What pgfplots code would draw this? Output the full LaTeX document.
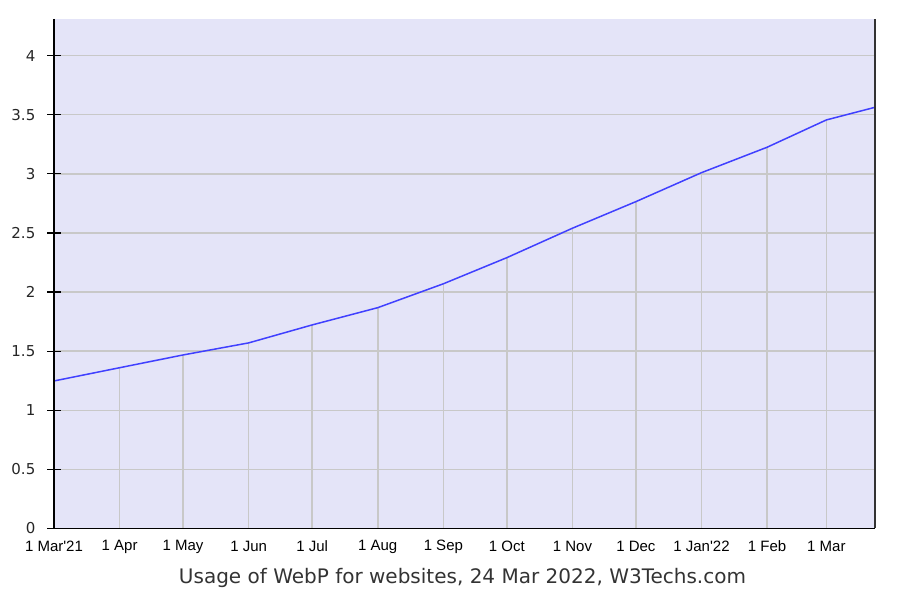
\documentclass[border=0pt]{standalone}
\usepackage{pgfplots}
\pgfplotsset{compat=1.18}
\usepackage{fontspec}
\setmainfont{DejaVu Sans}
\newfontfamily\arial{Liberation Sans}

\definecolor{bgcol}{RGB}{228,228,248}
\definecolor{gridcol}{RGB}{200,200,200}
\definecolor{linecol}{RGB}{64,64,255}

% WebP usage, days since 1 Mar 2021 -> percent
\pgfplotstableread{
day  val
0    1.248
31   1.36
61   1.468
92   1.57
122  1.722
153  1.868
184  2.07
214  2.291
245  2.54
275  2.765
306  3.01
337  3.225
365  3.456
388  3.563
}\webp

\begin{document}
\begin{tikzpicture}[x=1bp,y=1bp]
\useasboundingbox (0,0) rectangle (898,598);
\begin{axis}[
  at={(54bp,69.5bp)}, anchor=south west,
  scale only axis,
  width=821bp, height=509.5bp,
  xmin=0, xmax=388,
  ymin=0, ymax=4.31,
  axis background/.style={fill=bgcol},
  axis line style={draw=none},
  ytick={0,0.5,...,4},
  yticklabels={0,0.5,1,1.5,2,2.5,3,3.5,4},
  ytick pos=left,
  ymajorgrids,
  grid style={gridcol, line width=1.5bp},
  tick align=center,
  major tick length=13bp,
  ytick style={black, line width=1.2bp},
  xtick style={draw=none},
  yticklabel style={font=\fontsize{15bp}{17bp}\selectfont, anchor=east, inner sep=0pt, xshift=-12bp, text=black!85},
  xtick={0,31,61,92,122,153,184,214,245,275,306,337,365},
  xticklabels={1 Mar\textquotesingle 21,1 Apr,1 May,1 Jun,1 Jul,1 Aug,1 Sep,1 Oct,1 Nov,1 Dec,1 Jan\textquotesingle 22,1 Feb,1 Mar},
  xticklabel style={font=\arial\fontsize{15bp}{17bp}\selectfont, anchor=center, inner sep=0pt, yshift=-11.5bp},
  xlabel={Usage of WebP for websites, 24 Mar 2022, W3Techs.com},
  xlabel style={font=\fontsize{20bp}{22bp}\selectfont, at={(axis description cs:0.5,0)}, anchor=center, yshift=-49bp, xshift=-2bp, text=black!80},
  clip=false,
]
\addplot[ycomb, gridcol, line width=1.5bp, mark=none] table[x=day, y=val] {\webp};
\addplot[linecol, line width=1.5bp, mark=none] table[x=day, y=val] {\webp};
\draw[black, line width=1.5bp] (rel axis cs:0,1) -- (rel axis cs:0,0) -- (rel axis cs:1,0);
\draw[black!80, line width=1.5bp] (rel axis cs:1,0) -- (rel axis cs:1,1);
\end{axis}
\end{tikzpicture}
\end{document}
